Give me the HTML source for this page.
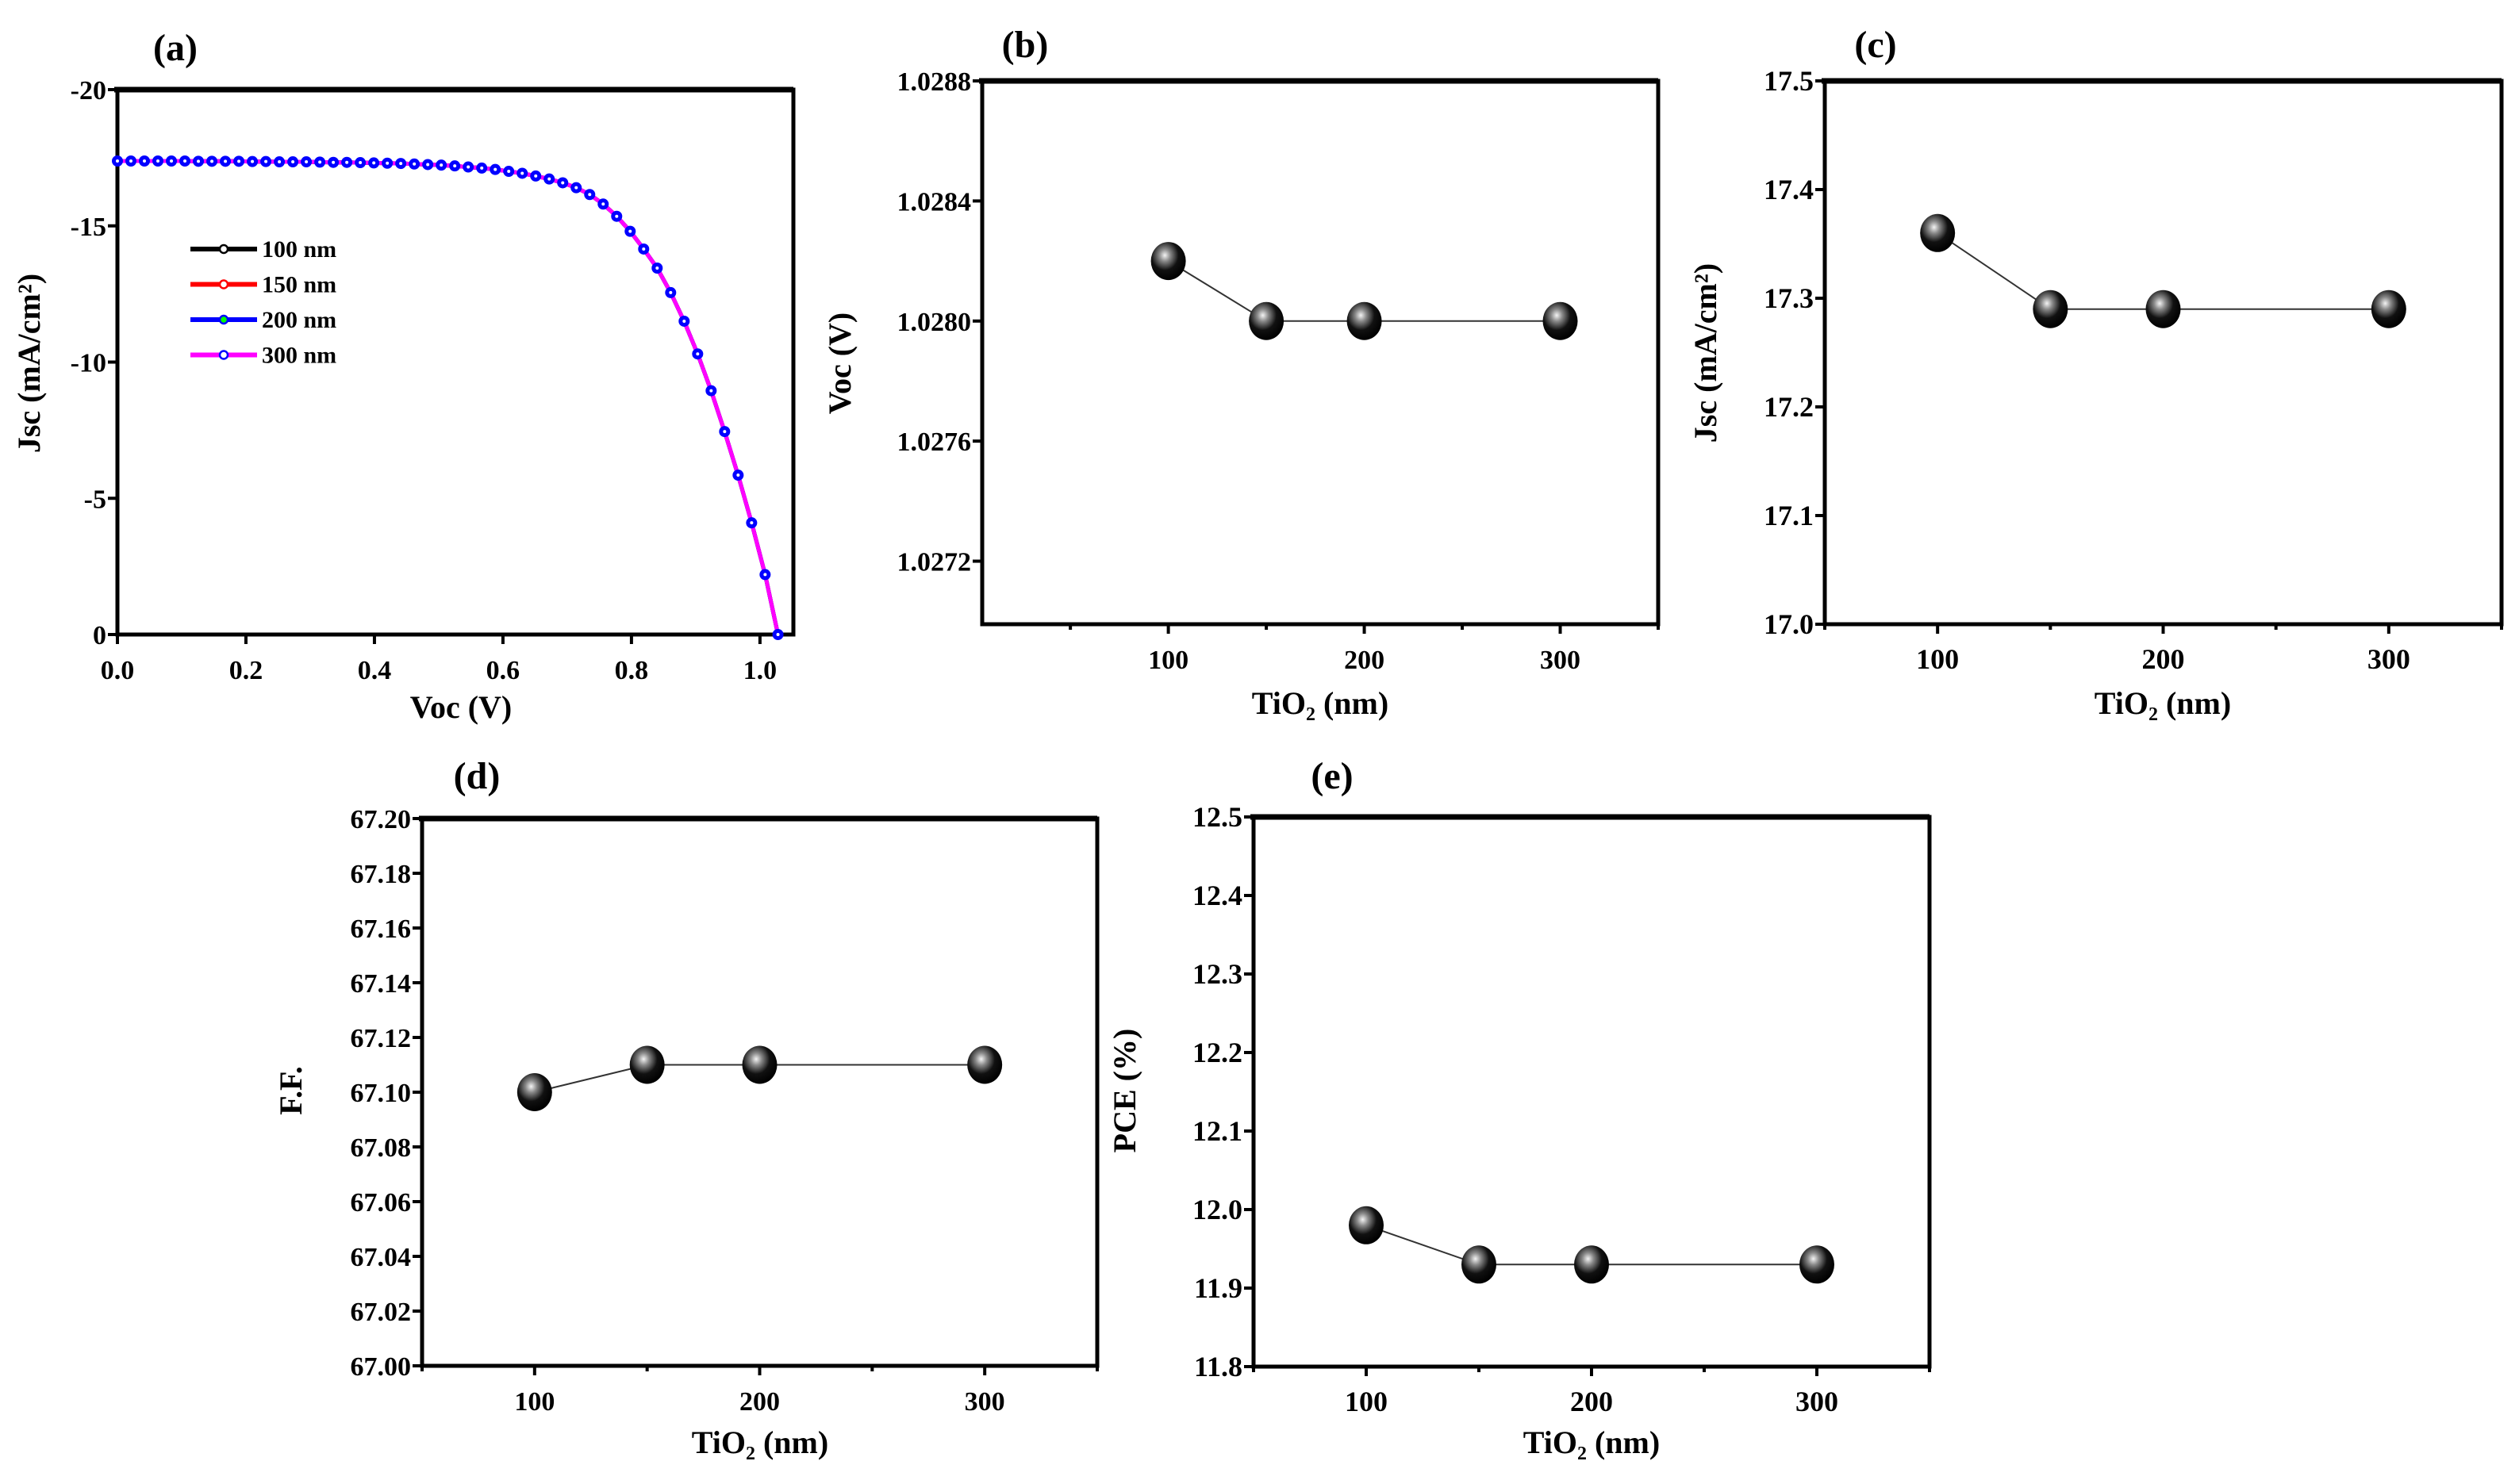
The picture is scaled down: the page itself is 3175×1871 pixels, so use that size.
<!DOCTYPE html>
<html><head><meta charset="utf-8"><style>
html,body{margin:0;padding:0;background:#fff}
svg{display:block}
text{font-family:"Liberation Serif",serif;font-weight:bold;fill:#000}
</style></head><body>
<svg id="fig" width="3175" height="1871" viewBox="0 0 3175 1871" xmlns="http://www.w3.org/2000/svg">
<defs>
<radialGradient id="ball" cx="0.4" cy="0.35" r="0.65">
<stop offset="0" stop-color="#f4f4f4"/><stop offset="0.25" stop-color="#888"/><stop offset="0.6" stop-color="#111"/><stop offset="1" stop-color="#000"/>
</radialGradient>
</defs>
</svg>
<script>
// ---- Panel (a) J-V data ----
const jvVoltage = [0,0.021,0.042,0.063,0.084,0.105,0.126,0.147,0.168,0.189,0.21,0.231,0.252,0.273,0.294,0.315,0.336,0.357,0.378,0.399,0.42,0.441,0.462,0.483,0.504,0.525,0.546,0.567,0.588,0.609,0.63,0.651,0.672,0.693,0.714,0.735,0.756,0.777,0.798,0.819,0.84,0.861,0.882,0.903,0.924,0.945,0.966,0.987,1.008,1.028];
const jvCurrent = [-17.38,-17.38,-17.38,-17.38,-17.38,-17.38,-17.37,-17.37,-17.37,-17.37,-17.36,-17.36,-17.35,-17.35,-17.35,-17.34,-17.33,-17.33,-17.32,-17.31,-17.3,-17.29,-17.27,-17.25,-17.23,-17.2,-17.16,-17.12,-17.07,-17.0,-16.93,-16.83,-16.72,-16.58,-16.4,-16.15,-15.8,-15.35,-14.8,-14.15,-13.45,-12.55,-11.5,-10.3,-8.95,-7.45,-5.85,-4.1,-2.2,0];
const jvLegend = ["100 nm","150 nm","200 nm","300 nm"];
const jvLegendColors = ["#000","#f00","#00f","#f0f"];
// ---- Thickness sweep ----
const thickness = [100,150,200,300];
const vocValues = [1.0282,1.0280,1.0280,1.0280];
const jscValues = [17.36,17.29,17.29,17.29];
const ffValues = [67.10,67.11,67.11,67.11];
const pceValues = [11.98,11.93,11.93,11.93];
const vocTicks = [1.0272,1.0276,1.0280,1.0284,1.0288];
const jscTicks = [17.0,17.1,17.2,17.3,17.4,17.5];
const ffTicks = [67.00,67.02,67.04,67.06,67.08,67.10,67.12,67.14,67.16,67.18,67.20];
const pceTicks = [11.8,11.9,12.0,12.1,12.2,12.3,12.4,12.5];
const thickTicks = [100,200,300];
const thickMinor = [50,150,250,350];
const aXTicks = [0,0.2,0.4,0.6,0.8,1.0];
const aYTicks = [0,-5,-10,-15,-20];

const svg = document.getElementById('fig');
const NS = 'http://www.w3.org/2000/svg';
function mk(tag, attrs, parent){
  const e = document.createElementNS(NS, tag);
  for (const k in attrs) e.setAttribute(k, attrs[k]);
  (parent||svg).appendChild(e);
  return e;
}
function txt(s, x, y, size, anchor, parent, rot){
  const t = mk('text', {x:x, y:y, 'font-size':size, 'text-anchor':anchor||'middle'}, parent);
  if (rot) t.setAttribute('transform', 'rotate(-90 '+x+' '+y+')');
  t.textContent = s;
  return t;
}

function panel(o){
  const g = mk('g', {});
  
  
  const sx = v => o.L + (v - o.x0) / (o.x1 - o.x0) * (o.R - o.L);
  const sy = v => o.B - (v - o.y0) / (o.y1 - o.y0) * (o.B - o.T);
  const frame = mk('rect', {x:o.L, y:o.T, width:o.R-o.L, height:o.B-o.T, fill:'none', stroke:'#000', 'stroke-width':5}, g);
  
  
  mk('line', {x1:o.L-4, y1:o.T, x2:o.R, y2:o.T, stroke:'#000', 'stroke-width':7}, g);
  o.xt.forEach(v => {
    const x = sx(v);
    mk('line', {x1:x, y1:o.B, x2:x, y2:o.B+12, stroke:'#000', 'stroke-width':4}, g);
    const t = txt(o.xf(v), x, o.B + 56, o.fs||34, 'middle', g);
    
    
  });
  (o.xm||[]).forEach(v => {
    const x = sx(v);
    mk('line', {x1:x, y1:o.B, x2:x, y2:o.B+7, stroke:'#000', 'stroke-width':4}, g);
  });
  o.yt.forEach(v => {
    const y = sy(v);
    mk('line', {x1:o.L-12, y1:y, x2:o.L, y2:y, stroke:'#000', 'stroke-width':4}, g);
    const t = txt(o.yf(v), o.L - 14, y + 12, o.fs||34, 'end', g);
    
    
  });
  const xt = txt(o.xtitle, o.xtx, o.xty, 40, 'middle', g);
  
  
  const yt = txt(o.ytitle, o.ytx, o.yty, 40, 'middle', g, true);
  
  
  const pl = txt(o.label, o.lx, o.ly, 48, 'middle', g);
  
  
  return {g, sx, sy};
}

// ---- Panel (a) ----
const pa = panel({name:'panel-a-jv', L:148, R:1000, T:113, B:800, x0:0, x1:1.052, y0:0, y1:-20,
  xt:aXTicks, xf:v=>v.toFixed(1), yt:aYTicks, yf:v=>String(v), fs:34,
  xtitle:'Voc (V)', xtx:581, xty:905, ytitle:'Jsc (mA/cm²)', ytx:50, yty:458,
  label:'(a)', lx:221, ly:76});
[0,1,2,3].forEach(k=>{
  const d = jvVoltage.map((v,i)=>(i?'L':'M')+pa.sx(v).toFixed(1)+' '+pa.sy(jvCurrent[i]).toFixed(1)).join(' ');
  const p = mk('path', {d:d, fill:'none', stroke:jvLegendColors[k], 'stroke-width':5}, pa.g);
  
  
});
jvVoltage.forEach((v,i)=>{
  const c = mk('circle', {cx:pa.sx(v), cy:pa.sy(jvCurrent[i]), r:6, fill:'#00f', stroke:'#00f', 'stroke-width':2}, pa.g);
  
  
  mk('circle', {cx:pa.sx(v), cy:pa.sy(jvCurrent[i]), r:2, fill:'#fff'}, pa.g);
});
jvLegend.forEach((s,k)=>{
  const y = 314 + k*44.5;
  const lg = mk('g', {}, pa.g);
  
  
  mk('line', {x1:240, y1:y, x2:324, y2:y, stroke:jvLegendColors[k], 'stroke-width':6}, lg);
  mk('circle', {cx:282, cy:y, r:5, fill:k==2?'#0f0':'#fff', stroke:k==3?'#00f':jvLegendColors[k], 'stroke-width':2.5}, lg);
  txt(s, 330, y+10, 30, 'start', lg);
});

// ---- scatter panels ----
function scatter(o, vals){
  const p = panel(o);
  const d = thickness.map((t,i)=>(i?'L':'M')+p.sx(t).toFixed(1)+' '+p.sy(vals[i]).toFixed(1)).join(' ');
  const ln = mk('path', {d:d, fill:'none', stroke:'#333', 'stroke-width':2}, p.g);
  
  
  thickness.forEach((t,i)=>{
    const c = mk('ellipse', {cx:p.sx(t), cy:p.sy(vals[i]), rx:22, ry:24, fill:'url(#ball)'}, p.g);
    
    
  });
}
scatter({name:'panel-b-voc', L:1238, R:2090, T:102, B:787, x0:5, x1:350, y0:1.02699, y1:1.0288,
  xt:thickTicks, xm:thickMinor, xf:v=>String(v), yt:vocTicks, yf:v=>v.toFixed(4), fs:34,
  xtitle:'TiO₂ (nm)', xtx:1664, xty:900, ytitle:'Voc (V)', ytx:1072, yty:458,
  label:'(b)', lx:1292, ly:72}, vocValues);
scatter({name:'panel-c-jsc', L:2300, R:3153, T:102, B:787, x0:50, x1:350, y0:17.0, y1:17.5,
  xt:thickTicks, xm:thickMinor, xf:v=>String(v), yt:jscTicks, yf:v=>v.toFixed(1), fs:36,
  xtitle:'TiO₂ (nm)', xtx:2726, xty:900, ytitle:'Jsc (mA/cm²)', ytx:2163, yty:445,
  label:'(c)', lx:2364, ly:72}, jscValues);
scatter({name:'panel-d-ff', L:532, R:1383, T:1032, B:1722, x0:50, x1:350, y0:67.0, y1:67.2,
  xt:thickTicks, xm:thickMinor, xf:v=>String(v), yt:ffTicks, yf:v=>v.toFixed(2), fs:34,
  xtitle:'TiO₂ (nm)', xtx:958, xty:1832, ytitle:'F.F.', ytx:380, yty:1375,
  label:'(d)', lx:601, ly:994}, ffValues);
scatter({name:'panel-e-pce', L:1580, R:2432, T:1030, B:1723, x0:50, x1:350, y0:11.8, y1:12.5,
  xt:thickTicks, xm:thickMinor, xf:v=>String(v), yt:pceTicks, yf:v=>v.toFixed(1), fs:36,
  xtitle:'TiO₂ (nm)', xtx:2006, xty:1832, ytitle:'PCE (%)', ytx:1431, yty:1375,
  label:'(e)', lx:1679, ly:994}, pceValues);
</script>
</body></html>
